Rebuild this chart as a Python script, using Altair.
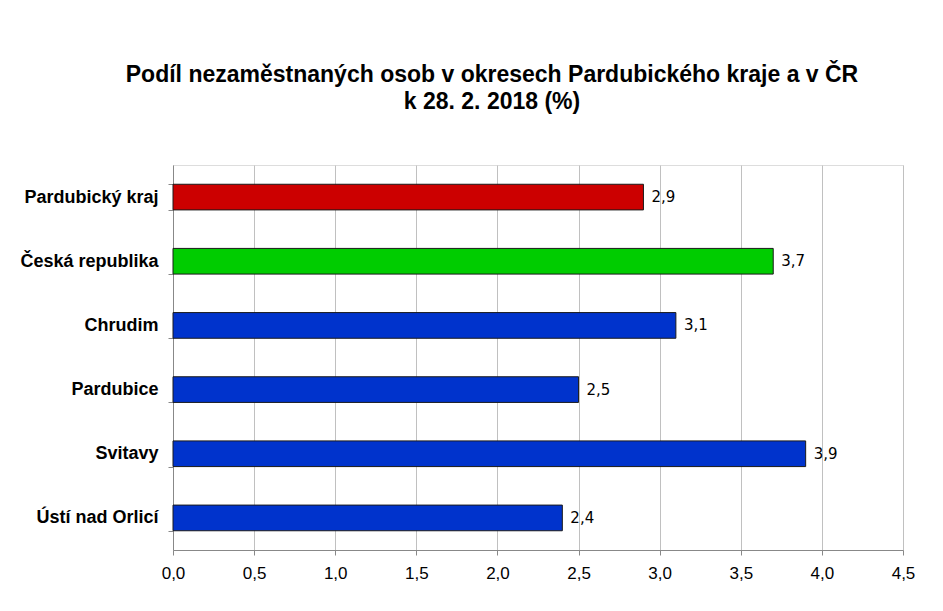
import altair as alt
import pandas as pd

categories = ["Pardubický kraj", "Česká republika", "Chrudim", "Pardubice", "Svitavy", "Ústí nad Orlicí"]
values = [2.9, 3.7, 3.1, 2.5, 3.9, 2.4]
colors = ["#CC0000", "#00CC00", "#0033CC", "#0033CC", "#0033CC", "#0033CC"]
labels = ["2,9", "3,7", "3,1", "2,5", "3,9", "2,4"]

df = pd.DataFrame({"cat": categories, "val": values, "col": colors, "lab": labels})

y = alt.Y("cat:N", sort=categories, title=None,
          scale=alt.Scale(paddingInner=0.6, paddingOuter=0.3),
          axis=alt.Axis(labelFont="Liberation Sans", labelFontSize=18, labelFontWeight="bold",
                        labelColor="black", labelPadding=10, tickBand="extent",
                        tickSize=5, tickColor="#888888", domainColor="#888888", grid=False))
x = alt.X("val:Q", title=None,
          scale=alt.Scale(domain=[0, 4.5], nice=False),
          axis=alt.Axis(values=[0, 0.5, 1, 1.5, 2, 2.5, 3, 3.5, 4, 4.5], format=".1f",
                        labelExpr="replace(format(datum.value, '.1f'), '.', ',')",
                        labelFont="Liberation Sans", labelFontSize=17, labelColor="black",
                        labelPadding=10, tickSize=5, tickColor="#888888", domainColor="#888888",
                        grid=True, gridColor="#c0c0c0", gridWidth=1, labelFlush=False))

bars = alt.Chart(df).mark_bar(stroke="#1a1a1a", strokeWidth=1).encode(
    x=x, y=y, color=alt.Color("col:N", scale=None))

text = alt.Chart(df).mark_text(align="left", dx=8, font="DejaVu Sans", fontSize=15, color="black").encode(
    x="val:Q", y=alt.Y("cat:N", sort=categories), text="lab:N")

chart = (bars + text).properties(
    width=730, height=385,
    padding={"left": 165, "top": 157, "right": 32, "bottom": 53},
    autosize=alt.AutoSizeParams(type="none"),
    title=alt.TitleParams(
        text=["Podíl nezaměstnaných osob v okresech Pardubického kraje a v ČR", "k 28. 2. 2018 (%)"],
        font="Liberation Sans", fontSize=23, fontWeight="bold", color="black",
        anchor="middle", dx=-46, offset=42, lineHeight=27),
).configure_view(stroke="#888888", strokeWidth=1).configure(background="white")

chart.save("out.html", embed_options={"renderer": "svg", "actions": False})
